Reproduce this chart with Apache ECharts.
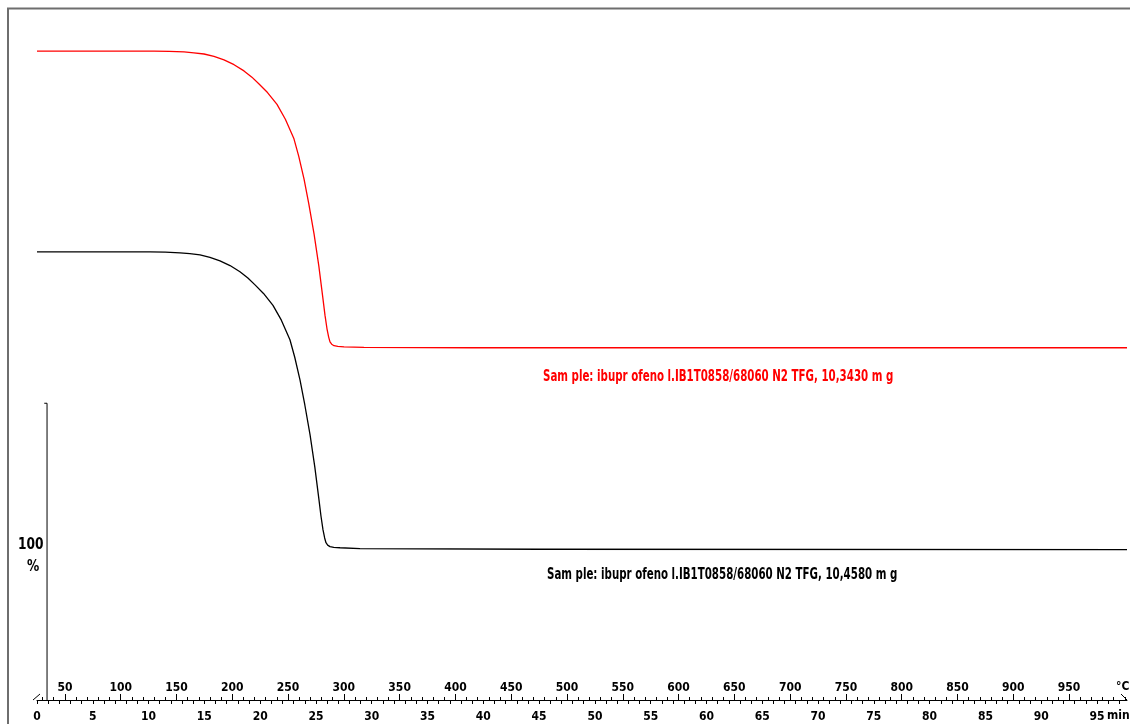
<!DOCTYPE html>
<html>
<head>
<meta charset="utf-8">
<script src="https://cdn.jsdelivr.net/npm/echarts@6/dist/echarts.min.js"></script>
<style>
html,body{margin:0;padding:0;background:#fff;}
#chart{width:1130px;height:724px;}
</style>
</head>
<body>
<div id="chart"></div>
<script>
// ---- data (time in min, mass in %) ----
const timeBlack = [0, 10.13, 11.5, 12.82, 13.7, 14.61, 15.5, 16.40, 17.3, 18.19, 18.9, 19.54, 20.3, 21.15, 21.9, 22.67, 23.1, 23.57, 24.0, 24.47, 24.9, 25.27, 25.45, 25.63, 25.78, 25.90, 26.05, 26.26, 26.6, 27.16, 28.95, 45, 97.69];
const massBlack = [100, 100, 99.9, 99.7, 99.4, 99.0, 98.2, 97.0, 95.4, 93.3, 91.2, 88.9, 86.0, 82.0, 77.0, 70.4, 64.5, 56.9, 48.5, 38.4, 27.5, 16.5, 11.0, 6.4, 3.6, 2.0, 1.2, 0.7, 0.45, 0.3, 0.0, -0.2, -0.3];
const timeRed = [0, 10.49, 11.86, 13.18, 14.06, 14.97, 15.86, 16.76, 17.66, 18.55, 19.26, 19.90, 20.66, 21.51, 22.26, 23.03, 23.46, 23.93, 24.36, 24.83, 25.26, 25.63, 25.81, 25.99, 26.14, 26.26, 26.41, 26.62, 26.96, 27.52, 29.3, 39.0, 97.69];
const massRed = [100, 100, 99.9, 99.7, 99.4, 99.0, 98.2, 97.0, 95.4, 93.3, 91.2, 88.9, 86.0, 82.0, 77.0, 70.4, 64.5, 56.9, 48.5, 38.4, 27.5, 16.5, 11.0, 6.4, 3.6, 2.0, 1.2, 0.7, 0.45, 0.3, 0.1, 0.0, 0.0];
const offsetRed = 67.7;   // vertical display shift of the red curve (in %)
const offsetBlack = 0;
const minuteLabels = [0,5,10,15,20,25,30,35,40,45,50,55,60,65,70,75,80,85,90,95];
const tempLabels = [50,100,150,200,250,300,350,400,450,500,550,600,650,700,750,800,850,900,950];
const labelRed = 'Sam ple: ibupr ofeno l.IB1T0858/68060 N2 TFG, 10,3430 m g';
const labelBlack = 'Sam ple: ibupr ofeno l.IB1T0858/68060 N2 TFG, 10,4580 m g';
const scaleBar = [[0.9, -51], [0.9, 49]];
const scaleBarTick = [[0.65, 49], [0.9, 49]];

const tMax = 97.69;
const minuteTicks = [];
for (let i = 0; i <= 97; i++) minuteTicks.push(i);
const tempTicks = [];
for (let v = 30; v <= 1000; v += 10) tempTicks.push(v);

const FONT = "'Liberation Sans Narrow', 'Arial Narrow', 'DejaVu Sans Condensed', 'Liberation Sans', sans-serif";

function pairs(ts, ms, off) { return ts.map((t, i) => [t, ms[i] + off]); }

const chart = echarts.init(document.getElementById('chart'), null, {renderer: 'canvas'});
chart.setOption({
  animation: false,
  backgroundColor: '#fff',
  grid: {left: 37, right: 3, top: 8, bottom: 24, containLabel: false},
  xAxis: [
    {
      type: 'value', min: 0, max: tMax, position: 'bottom',
      axisLine: {show: true, onZero: false, lineStyle: {color: '#000', width: 1}},
      axisTick: {show: true, inside: false, length: 4, customValues: minuteTicks, lineStyle: {color: '#000'}},
      axisLabel: {customValues: minuteLabels, margin: 11, fontSize: 12, fontWeight: 'bold', fontFamily: FONT, color: '#000'},
      splitLine: {show: false}
    },
    {
      type: 'value', min: 25, max: 25 + tMax * 10, position: 'bottom', offset: 0,
      axisLine: {show: false, onZero: false},
      axisTick: {show: true, inside: true, length: 3, customValues: tempTicks, lineStyle: {color: '#000'}},
      axisLabel: {inside: true, customValues: tempLabels, margin: 6, fontSize: 12, fontWeight: 'bold', fontFamily: FONT, color: '#000'},
      splitLine: {show: false}
    },
    {
      type: 'value', min: 25, max: 25 + tMax * 10, position: 'bottom', offset: 0,
      axisLine: {show: false, onZero: false},
      axisTick: {show: true, inside: true, length: 6, customValues: tempLabels, lineStyle: {color: '#000'}},
      axisLabel: {show: false},
      splitLine: {show: false}
    }
  ],
  yAxis: {type: 'value', min: -51, max: 182.2, show: false},
  series: [
    {
      type: 'line', name: 'red', xAxisIndex: 0, data: pairs(timeRed, massRed, offsetRed),
      showSymbol: false, smooth: false,
      lineStyle: {color: '#ff0000', width: 1.3}, itemStyle: {color: '#ff0000'}
    },
    {
      type: 'line', name: 'black', xAxisIndex: 0, data: pairs(timeBlack, massBlack, offsetBlack),
      showSymbol: false, smooth: false,
      lineStyle: {color: '#000', width: 1.3}, itemStyle: {color: '#000'}
    },
    {
      type: 'line', xAxisIndex: 0, data: scaleBar, showSymbol: false,
      lineStyle: {color: '#000', width: 1}
    },
    {
      type: 'line', xAxisIndex: 0, data: scaleBarTick, showSymbol: false,
      lineStyle: {color: '#000', width: 1}
    }
  ],
  graphic: [
    {type: 'polyline', shape: {points: [[8, 724], [8, 8.5], [1130, 8.5]]}, style: {stroke: '#6e6e6e', lineWidth: 2, fill: null}},
    {type: 'line', shape: {x1: 33, y1: 700, x2: 40, y2: 694}, style: {stroke: '#000', lineWidth: 1}},
    {type: 'line', shape: {x1: 1121, y1: 694, x2: 1127, y2: 700}, style: {stroke: '#000', lineWidth: 1}},
    {type: 'text', x: 18, y: 537, scaleX: 0.85, style: {text: '100', font: 'bold 16px ' + FONT, fill: '#000'}},
    {type: 'text', x: 27, y: 559, scaleX: 0.85, style: {text: '%', font: 'bold 16px ' + FONT, fill: '#000'}},
    {type: 'text', x: 543, y: 370, scaleX: 0.76, style: {text: labelRed, font: 'bold 15px ' + FONT, fill: '#ff0000'}},
    {type: 'text', x: 547, y: 568, scaleX: 0.76, style: {text: labelBlack, font: 'bold 15px ' + FONT, fill: '#000'}},
    {type: 'text', x: 1116, y: 681, style: {text: '°C', font: 'bold 12px ' + FONT, fill: '#000'}},
    {type: 'text', x: 1107, y: 710, style: {text: 'min', font: 'bold 12px ' + FONT, fill: '#000'}}
  ]
});
</script>
</body>
</html>
